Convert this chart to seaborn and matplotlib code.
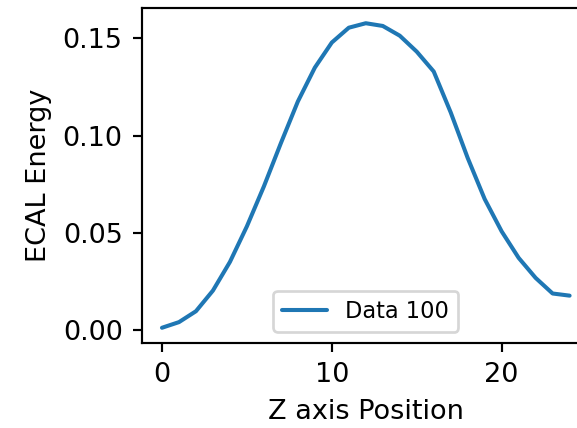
import numpy as np
import pandas as pd
import matplotlib
matplotlib.use("Agg")
import matplotlib.pyplot as plt
import seaborn as sns

# ECAL energy profile along Z
z_position = list(range(25))
ecal_energy = [0.0014, 0.0043, 0.0099, 0.0205, 0.0352, 0.0535, 0.0740, 0.0962,
               0.1176, 0.1350, 0.1479, 0.1555, 0.1578, 0.1564, 0.1514, 0.1432,
               0.1330, 0.1120, 0.0886, 0.0675, 0.0509, 0.0373, 0.0270, 0.0190,
               0.0179]

df = pd.DataFrame({"Z axis Position": z_position, "ECAL Energy": ecal_energy})

sns.set_style("ticks")
plt.rcParams["font.family"] = ["DejaVu Sans"]
plt.rcParams["text.color"] = "black"
plt.rcParams["axes.labelcolor"] = "black"

DPI = 195
fig = plt.figure(figsize=(577 / DPI, 428 / DPI), dpi=DPI)
ax = fig.add_axes([0.2454, 0.1986, 1.0225 - 0.2454, 0.9813 - 0.1986])

sns.lineplot(data=df, x="Z axis Position", y="ECAL Energy", ax=ax,
             color="#1f77b4", linewidth=1.5, label="Data 100")

ax.set_xticks([0, 10, 20])
ax.set_yticks([0.0, 0.05, 0.10, 0.15])
ax.set_yticklabels(["0.00", "0.05", "0.10", "0.15"])
ax.tick_params(labelsize=10, colors="black", length=3.5)
ax.set_xlabel("Z axis Position", fontsize=10)
ax.set_ylabel("ECAL Energy", fontsize=10)
for s in ax.spines.values():
    s.set_color("black")
ax.legend(loc="lower center", fontsize="small", frameon=True)

fig.savefig("out.png", dpi=DPI)
